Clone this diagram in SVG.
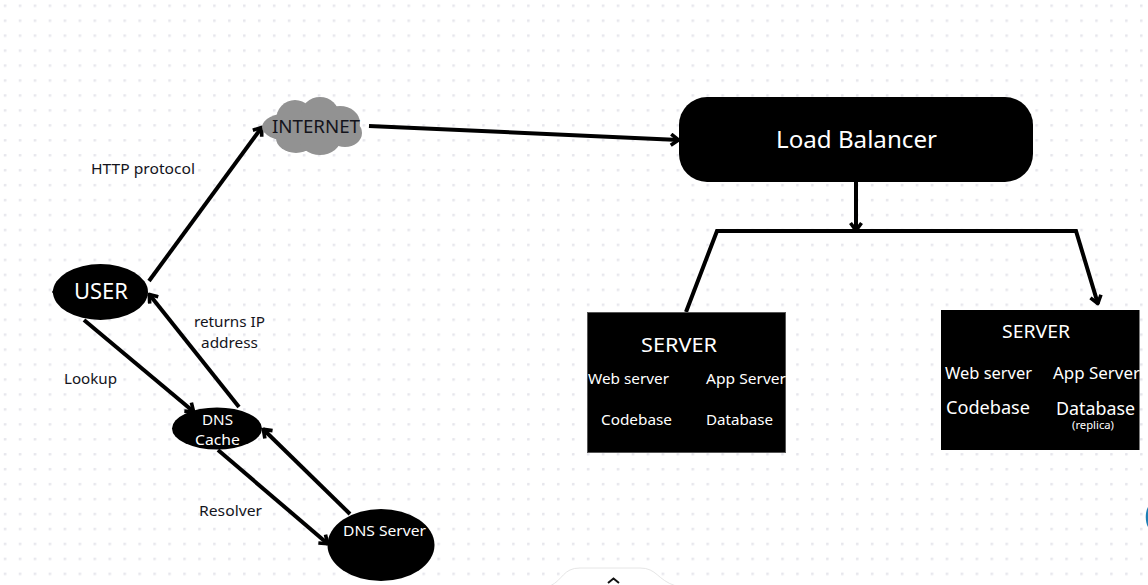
<svg xmlns="http://www.w3.org/2000/svg" width="1148" height="585" viewBox="0 0 1148 585">
<style>
text{font-family:"Noto Sans","Open Sans","Liberation Sans",sans-serif}
.w{fill:#fff}
.d{fill:#14141c}
.c{fill:none;stroke:#000;stroke-width:4}
.b{fill:#000}
</style>
<defs>
<pattern id="dots" x="3.8" y="4.5" width="14.95" height="14.95" patternUnits="userSpaceOnUse"><rect width="2.6" height="2.6" rx="0.6" fill="#e6e6ec"/></pattern>
<marker id="a" viewBox="0 0 14 14" refX="11.5" refY="7" markerWidth="14" markerHeight="14" markerUnits="userSpaceOnUse" orient="auto"><path d="M3.5 1.5 L11 7 L3.5 12.5" fill="none" stroke="#000" stroke-width="3.6" stroke-linejoin="round"/></marker>
</defs>
<rect width="1148" height="585" fill="#fff"/>
<rect width="1148" height="585" fill="url(#dots)"/>
<g id="connectors" class="conn">
<line class="c" x1="149" y1="281" x2="262" y2="127" marker-end="url(#a)"/>
<line class="c" x1="239" y1="407" x2="149" y2="294" marker-end="url(#a)"/>
<line class="c" x1="84" y1="320" x2="194" y2="412" marker-end="url(#a)"/>
<line class="c" x1="350" y1="514" x2="263" y2="429" marker-end="url(#a)"/>
<line class="c" x1="218" y1="450" x2="328" y2="544" marker-end="url(#a)"/>
<line class="c" x1="369" y1="126" x2="679" y2="140" marker-end="url(#a)"/>
<line class="c" x1="856" y1="182" x2="856" y2="231" marker-end="url(#a)"/>
<path class="c" d="M686 312 L717 231 H1076 L1098 304" marker-end="url(#a)" style="stroke-linejoin:miter"/>
</g>
<g id="internet">
<g fill="#929292">
<ellipse cx="290" cy="127" rx="28" ry="14"/><ellipse cx="295" cy="120" rx="19" ry="20"/><ellipse cx="320" cy="115" rx="19" ry="18"/><ellipse cx="340" cy="123" rx="20" ry="17"/><ellipse cx="345" cy="133" rx="17" ry="14"/><ellipse cx="296" cy="138" rx="20" ry="15"/><ellipse cx="320" cy="138" rx="21" ry="17"/><rect x="285" y="112" width="60" height="30"/>
</g>
<text class="d" x="272" y="133" font-size="18" textLength="88" lengthAdjust="spacingAndGlyphs">INTERNET</text>
</g>
<g id="user">
<ellipse class="b" cx="100.500" cy="292" rx="47.500" ry="28"/>
<path class="b" d="M56 285 L52 292 L56 298Z"/>
<text class="w" x="74" y="299" font-size="22" textLength="54" lengthAdjust="spacingAndGlyphs">USER</text>
</g>
<g id="dns-cache">
<ellipse class="b" cx="217" cy="428.500" rx="45" ry="21"/>
<text class="w" x="202" y="425" font-size="14" textLength="31" lengthAdjust="spacingAndGlyphs">DNS</text>
<text class="w" x="195" y="445" font-size="14" textLength="45" lengthAdjust="spacingAndGlyphs">Cache</text>
</g>
<g id="dns-server">
<ellipse class="b" cx="381" cy="545" rx="53.500" ry="36"/>
<text class="w" x="343" y="536" font-size="14" textLength="83" lengthAdjust="spacingAndGlyphs">DNS Server</text>
</g>
<g id="load-balancer">
<rect class="b" x="679" y="97" width="354" height="85" rx="28"/>
<text class="w" x="776" y="148" font-size="24" textLength="161" lengthAdjust="spacingAndGlyphs">Load Balancer</text>
</g>
<g id="server-1">
<rect class="b" x="587.500" y="312.500" width="198" height="140" stroke="#555" stroke-width="1"/>
<text class="w" x="641" y="352" font-size="19" textLength="76" lengthAdjust="spacingAndGlyphs">SERVER</text>
<text class="w" x="588" y="384" font-size="14.500" textLength="81" lengthAdjust="spacingAndGlyphs">Web server</text>
<text class="w" x="706" y="384" font-size="14.500" textLength="80" lengthAdjust="spacingAndGlyphs">App Server</text>
<text class="w" x="601" y="425" font-size="14.500" textLength="71" lengthAdjust="spacingAndGlyphs">Codebase</text>
<text class="w" x="706" y="425" font-size="14.500" textLength="67" lengthAdjust="spacingAndGlyphs">Database</text>
</g>
<g id="server-2">
<rect class="b" x="941" y="310" width="198.500" height="140"/>
<text class="w" x="1002" y="338" font-size="18" textLength="68" lengthAdjust="spacingAndGlyphs">SERVER</text>
<text class="w" x="945" y="379" font-size="16" textLength="87" lengthAdjust="spacingAndGlyphs">Web server</text>
<text class="w" x="1053" y="379" font-size="16" textLength="87" lengthAdjust="spacingAndGlyphs">App Server</text>
<text class="w" x="946" y="414" font-size="18" textLength="84" lengthAdjust="spacingAndGlyphs">Codebase</text>
<text class="w" x="1056" y="415" font-size="18" textLength="79" lengthAdjust="spacingAndGlyphs">Database</text>
<text class="w" x="1072" y="429" font-size="10" textLength="42" lengthAdjust="spacingAndGlyphs">(replica)</text>
</g>
<g id="labels">
<text class="d" x="91" y="174" font-size="14.500" textLength="104" lengthAdjust="spacingAndGlyphs">HTTP protocol</text>
<text class="d" x="194" y="327" font-size="14.500" textLength="71" lengthAdjust="spacingAndGlyphs">returns IP</text>
<text class="d" x="201" y="348" font-size="14.500" textLength="57" lengthAdjust="spacingAndGlyphs">address</text>
<text class="d" x="64" y="384" font-size="14.500" textLength="53" lengthAdjust="spacingAndGlyphs">Lookup</text>
<text class="d" x="199" y="516" font-size="14.500" textLength="63" lengthAdjust="spacingAndGlyphs">Resolver</text>
</g>
<path d="M550 586 C563 580 563 568 580 568 H640 C657 568 657 580 676 586Z" fill="#fff" stroke="#e6e6e6" stroke-width="1"/>
<path d="M608 583 L613.500 578.500 L619 583" fill="none" stroke="#111" stroke-width="2"/>
<path d="M1148 507 C1145 512 1145 522 1148 527Z" fill="#1d7fb5"/>
</svg>
